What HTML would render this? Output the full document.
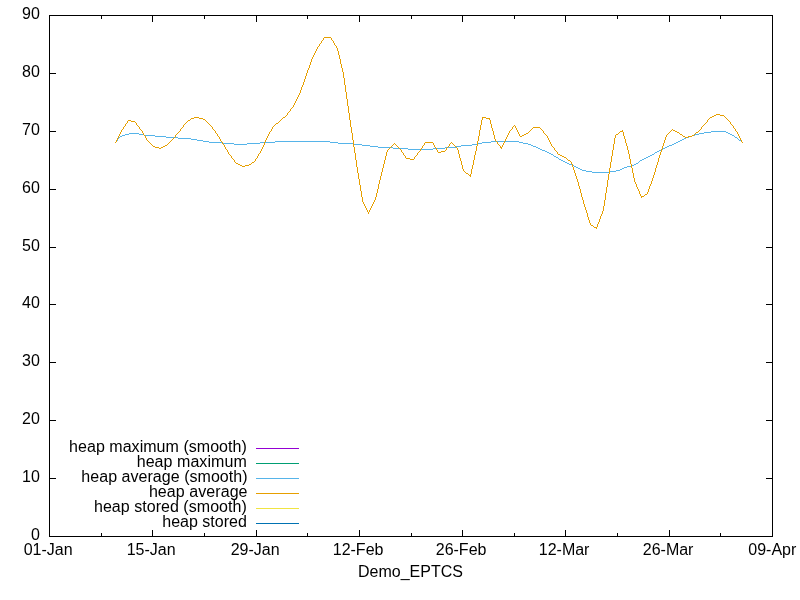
<!DOCTYPE html>
<html lang="en"><head><meta charset="utf-8"><title>Demo_EPTCS</title>
<style>html,body{margin:0;padding:0;background:#fff;width:800px;height:600px;overflow:hidden}body{position:relative;font-family:"Liberation Sans",Arial,sans-serif}</style></head>
<body>
<svg width="800" height="600" viewBox="0 0 800 600" style="display:block;position:absolute;left:0;top:0">
<rect x="0" y="0" width="800" height="600" fill="#ffffff"/>
<g fill="none" stroke="#56b4e9" stroke-width="1" shape-rendering="crispEdges">
<path transform="translate(0.5,0)" d="M117 139v2"/>
<path transform="translate(0,0.5)" d="M711 131h15M704 132h7M726 132h2M129 133h10M699 133h5M728 133h2M125 134h4M139 134h5M695 134h4M730 134h2M122 135h3M144 135h11M692 135h3M732 135h2M120 136h2M155 136h11M689 136h3M734 136h1M119 137h1M166 137h12M686 137h3M735 137h2M118 138h1M178 138h13M684 138h2M737 138h1M191 139h6M682 139h2M738 139h1M197 140h6M680 140h2M739 140h2M116 141h1M203 141h6M275 141h55M491 141h28M678 141h2M741 141h1M115 142h1M209 142h13M260 142h15M330 142h8M482 142h9M519 142h4M676 142h2M742 142h1M222 143h12M247 143h13M338 143h16M477 143h5M523 143h5M674 143h2M234 144h13M354 144h8M472 144h5M528 144h3M672 144h2M362 145h8M461 145h11M531 145h2M669 145h3M370 146h8M456 146h5M533 146h3M667 146h2M378 147h15M445 147h11M536 147h2M665 147h2M393 148h15M433 148h12M538 148h2M663 148h2M408 149h25M540 149h2M661 149h2M542 150h3M659 150h2M545 151h2M657 151h2M547 152h2M655 152h2M549 153h2M654 153h1M551 154h2M652 154h2M553 155h1M650 155h2M554 156h2M648 156h2M556 157h2M646 157h2M558 158h1M644 158h2M559 159h2M642 159h2M561 160h2M640 160h2M563 161h2M639 161h1M565 162h2M638 162h1M567 163h2M636 163h2M569 164h3M634 164h2M572 165h2M631 165h3M574 166h2M627 166h4M576 167h2M624 167h3M578 168h2M622 168h2M580 169h2M620 169h2M582 170h4M616 170h4M586 171h6M610 171h6M592 172h18"/>
</g>
<g fill="none" stroke="#e69f00" stroke-width="1" shape-rendering="crispEdges">
<path transform="translate(0.5,0)" d="M116 140v2M117 138v2M118 136v2M119 134v2M120 132v2M121 130v2M123 127v2M125 124v2M127 121v2M136 123v2M139 127v2M142 131v2M143 133v2M145 136v2M146 138v2M175 135v2M180 129v2M183 125v2M212 127v2M215 131v2M217 134v2M219 137v2M220 139v2M222 142v2M224 145v2M225 147v2M227 150v2M228 152v2M231 156v2M234 160v2M255 159v2M257 156v2M258 154v2M260 151v2M261 149v2M262 147v2M263 145v2M264 142v3M265 140v2M266 138v2M267 136v2M268 134v2M269 132v2M271 129v2M272 127v2M287 113v2M290 109v2M293 105v2M294 103v2M295 101v2M296 99v2M297 97v2M298 95v2M299 93v2M300 90v3M301 87v3M302 85v2M303 82v3M304 79v3M305 76v3M306 73v3M307 70v3M308 68v2M309 65v3M310 62v3M311 59v3M312 57v2M313 55v2M314 53v2M315 51v2M316 49v2M317 47v2M319 44v2M321 41v2M323 38v2M331 38v2M333 41v2M334 43v2M336 46v2M337 48v3M338 51v4M339 55v4M340 59v5M341 64v4M342 68v4M343 72v6M344 78v7M345 85v7M346 92v7M347 99v7M348 106v7M349 113v7M350 120v7M351 127v6M352 133v7M353 140v7M354 147v6M355 153v7M356 160v7M357 167v6M358 173v6M359 179v6M360 185v6M361 191v6M362 197v5M363 202v2M364 204v2M365 206v2M366 208v2M367 210v2M368 212v2M369 210v2M370 208v2M371 206v2M372 204v2M373 202v2M374 200v2M375 197v3M376 193v4M377 189v4M378 184v5M379 180v4M380 176v4M381 172v4M382 168v4M383 164v4M384 160v4M385 156v4M386 152v4M387 150v2M401 150v2M403 153v2M405 156v2M414 157v2M417 153v2M420 149v2M422 146v2M424 143v2M433 143v2M434 145v2M436 148v2M437 150v2M446 148v2M449 144v2M457 148v2M458 150v4M459 154v4M460 158v3M461 161v4M462 165v4M463 169v2M470 174v3M471 169v5M472 165v4M473 160v5M474 155v5M475 151v4M476 146v5M477 141v5M478 136v5M479 130v6M480 125v5M481 120v5M482 117v3M489 118v2M490 120v4M491 124v4M492 128v3M493 131v4M494 135v4M495 139v2M497 142v2M500 146v2M501 147v2M502 145v2M503 143v2M504 141v2M505 139v2M506 137v2M507 135v2M508 133v2M509 131v2M512 127v2M515 126v2M516 128v2M517 130v2M518 132v2M519 134v2M543 131v2M547 136v2M548 138v2M549 140v2M550 142v2M551 144v2M554 148v2M557 152v2M571 162v2M572 164v3M573 167v3M574 170v3M575 173v3M576 176v3M577 179v3M578 182v4M579 186v3M580 189v4M581 193v4M582 197v3M583 200v4M584 204v3M585 207v3M586 210v3M587 213v4M588 217v3M589 220v3M590 223v2M596 227v2M597 224v3M598 222v2M599 219v3M600 216v3M601 214v2M602 211v3M603 206v5M604 200v6M605 193v7M606 187v6M607 180v7M608 174v6M609 168v6M610 162v6M611 156v6M612 150v6M613 144v6M614 138v6M615 135v3M622 130v2M623 132v4M624 136v3M625 139v4M626 143v3M627 146v4M628 150v4M629 154v5M630 159v5M631 164v4M632 168v5M633 173v5M634 178v4M635 182v2M636 184v3M637 187v2M638 189v2M639 191v3M640 194v2M641 196v2M647 192v2M648 189v3M649 186v3M650 184v2M651 181v3M652 178v3M653 175v3M654 172v3M655 168v4M656 165v3M657 162v3M658 158v4M659 155v3M660 152v3M661 149v3M662 146v3M663 143v3M664 140v3M665 137v3M666 135v2M701 127v2M707 120v2M730 122v2M733 126v2M735 129v2M737 132v2M738 134v2M739 136v2M740 138v2M741 140v2"/>
<path transform="translate(0,0.5)" d="M324 37h7M322 40h1M332 40h1M320 43h1M335 45h1M318 46h1M292 107h1M291 108h1M289 111h1M288 112h1M716 114h4M286 115h1M714 115h2M720 115h4M285 116h1M712 116h2M724 116h1M194 117h5M283 117h2M483 117h3M710 117h2M725 117h1M191 118h3M199 118h4M282 118h1M486 118h3M709 118h1M726 118h1M190 119h1M203 119h2M281 119h1M708 119h1M727 119h1M128 120h3M188 120h2M205 120h1M280 120h1M728 120h1M131 121h4M187 121h1M206 121h1M279 121h1M729 121h1M135 122h1M186 122h1M207 122h1M278 122h1M706 122h1M126 123h1M185 123h1M208 123h1M276 123h2M705 123h1M184 124h1M209 124h1M275 124h1M704 124h1M731 124h1M137 125h1M210 125h1M274 125h1M514 125h1M703 125h1M732 125h1M124 126h1M138 126h1M211 126h1M273 126h1M513 126h1M702 126h1M182 127h1M533 127h7M181 128h1M532 128h1M540 128h1M734 128h1M122 129h1M140 129h1M213 129h1M511 129h1M531 129h1M541 129h1M672 129h1M700 129h1M141 130h1M214 130h1M510 130h1M530 130h1M542 130h1M671 130h1M673 130h2M699 130h1M179 131h1M270 131h1M529 131h1M620 131h2M670 131h1M675 131h2M698 131h1M736 131h1M178 132h1M528 132h1M619 132h1M669 132h1M677 132h2M696 132h2M177 133h1M216 133h1M526 133h2M544 133h1M618 133h1M668 133h1M679 133h1M695 133h1M176 134h1M524 134h2M545 134h1M616 134h2M667 134h1M680 134h2M694 134h1M144 135h1M522 135h2M546 135h1M682 135h1M692 135h2M218 136h1M520 136h2M683 136h2M688 136h4M174 137h1M685 137h3M173 138h1M172 139h1M147 140h1M171 140h1M148 141h1M170 141h1M221 141h1M496 141h1M115 142h1M149 142h1M169 142h1M425 142h8M451 142h1M742 142h1M150 143h1M168 143h1M394 143h1M450 143h1M452 143h1M151 144h1M167 144h1M223 144h1M393 144h1M395 144h1M453 144h1M498 144h1M152 145h1M165 145h2M392 145h1M396 145h1M423 145h1M454 145h1M499 145h1M153 146h2M163 146h2M391 146h1M397 146h1M448 146h1M455 146h1M552 146h1M155 147h4M161 147h2M390 147h1M398 147h1M435 147h1M447 147h1M456 147h1M553 147h1M159 148h2M389 148h1M399 148h1M421 148h1M226 149h1M388 149h1M400 149h1M445 150h1M555 150h1M419 151h1M441 151h4M556 151h1M402 152h1M418 152h1M438 152h3M259 153h1M229 154h1M558 154h2M230 155h1M404 155h1M416 155h1M560 155h2M415 156h1M562 156h2M564 157h2M232 158h1M256 158h1M406 158h4M566 158h1M233 159h1M410 159h4M567 159h1M568 160h2M254 161h1M570 161h1M235 162h1M252 162h2M236 163h2M251 163h1M238 164h2M249 164h2M240 165h2M245 165h4M242 166h3M464 171h1M465 172h1M466 173h2M468 174h1M469 175h1M645 194h2M644 195h1M642 196h2M591 225h2M593 226h1M594 227h2"/>
</g>
<path d="M49.5 15.5H772.5V536.5H49.5ZM49.5 478.5h6M772.5 478.5h-7M49.5 420.5h6M772.5 420.5h-7M49.5 362.5h6M772.5 362.5h-7M49.5 304.5h6M772.5 304.5h-7M49.5 247.5h6M772.5 247.5h-7M49.5 189.5h6M772.5 189.5h-7M49.5 131.5h6M772.5 131.5h-7M49.5 73.5h6M772.5 73.5h-7M101.5 536.5v-4M101.5 15.5v3M152.5 536.5v-7M152.5 15.5v6M204.5 536.5v-4M204.5 15.5v3M256.5 536.5v-7M256.5 15.5v6M307.5 536.5v-4M307.5 15.5v3M359.5 536.5v-7M359.5 15.5v6M411.5 536.5v-4M411.5 15.5v3M462.5 536.5v-7M462.5 15.5v6M514.5 536.5v-4M514.5 15.5v3M565.5 536.5v-7M565.5 15.5v6M617.5 536.5v-4M617.5 15.5v3M669.5 536.5v-7M669.5 15.5v6M720.5 536.5v-4M720.5 15.5v3" fill="none" stroke="#000" stroke-width="1" shape-rendering="crispEdges"/>
<g font-family="'Liberation Sans', Arial, sans-serif" font-size="16" fill="#000">
<text x="39.8" y="539.7" text-anchor="end">0</text>
<text x="39.8" y="481.7" text-anchor="end">10</text>
<text x="39.8" y="423.7" text-anchor="end">20</text>
<text x="39.8" y="365.7" text-anchor="end">30</text>
<text x="39.8" y="307.7" text-anchor="end">40</text>
<text x="39.8" y="250.7" text-anchor="end">50</text>
<text x="39.8" y="192.7" text-anchor="end">60</text>
<text x="39.8" y="134.7" text-anchor="end">70</text>
<text x="39.8" y="76.7" text-anchor="end">80</text>
<text x="39.8" y="18.7" text-anchor="end">90</text>
<text x="48.1" y="555" text-anchor="middle">01-Jan</text>
<text x="151.1" y="555" text-anchor="middle">15-Jan</text>
<text x="255.1" y="555" text-anchor="middle">29-Jan</text>
<text x="358.1" y="555" text-anchor="middle">12-Feb</text>
<text x="461.1" y="555" text-anchor="middle">26-Feb</text>
<text x="564.1" y="555" text-anchor="middle">12-Mar</text>
<text x="668.1" y="555" text-anchor="middle">26-Mar</text>
<text x="772.3" y="555" text-anchor="middle">09-Apr</text>
<text x="410.5" y="577" text-anchor="middle">Demo_EPTCS</text>
<text x="246.8" y="452.0" text-anchor="end" letter-spacing="0.035">heap maximum (smooth)</text>
<text x="246.8" y="467.0" text-anchor="end" letter-spacing="0.060">heap maximum</text>
<text x="247.6" y="482.0" text-anchor="end" letter-spacing="0.040">heap average (smooth)</text>
<text x="247.6" y="497.0" text-anchor="end" letter-spacing="0.070">heap average</text>
<text x="246.8" y="512.0" text-anchor="end" letter-spacing="0.037">heap stored (smooth)</text>
<text x="246.8" y="527.0" text-anchor="end">heap stored</text>
</g>
<g stroke-width="1" shape-rendering="crispEdges">
<path d="M256 448.5H299" stroke="#9400d3"/>
<path d="M256 463.5H299" stroke="#009e73"/>
<path d="M256 478.5H299" stroke="#56b4e9"/>
<path d="M256 493.5H299" stroke="#e69f00"/>
<path d="M256 508.5H299" stroke="#f0e442"/>
<path d="M256 523.5H299" stroke="#0072b2"/>
</g>
</svg>
</body></html>
